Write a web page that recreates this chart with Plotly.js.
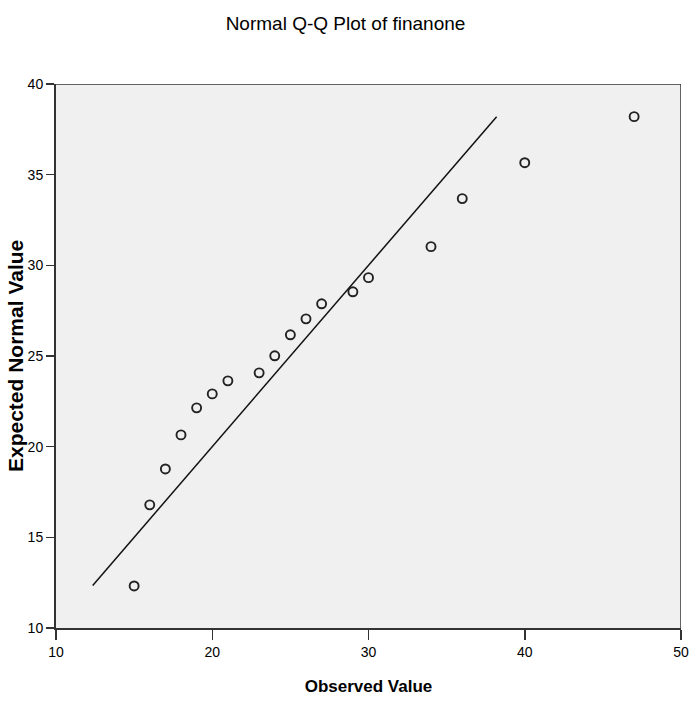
<!DOCTYPE html>
<html>
<head>
<meta charset="utf-8">
<script src="https://cdn.plot.ly/plotly-3.0.1.min.js"></script>
<style>html,body{margin:0;padding:0;background:#fff;}#chart{width:691px;height:704px;}</style>
</head>
<body>
<div id="chart"></div>
<script>
var observed = [15, 16, 17, 18, 19, 20, 21, 23, 24, 25, 26, 27, 29, 30, 34, 36, 40, 47];
var expected = [12.32, 16.79, 18.77, 20.65, 22.14, 22.91, 23.63, 24.07, 25.01, 26.17, 27.05, 27.88, 28.54, 29.32, 31.03, 33.68, 35.66, 38.2];
var lineX = [12.35, 38.2];
var lineY = [12.35, 38.2];
var xTicks = [10, 20, 30, 40, 50];
var yTicks = [10, 15, 20, 25, 30, 35, 40];

var fontFam = 'Arial, "Liberation Sans", sans-serif';

var traces = [
  {x: lineX, y: lineY, type: 'scatter', mode: 'lines', line: {color: '#111', width: 1.5}, hoverinfo: 'skip'},
  {x: observed, y: expected, type: 'scatter', mode: 'markers',
   marker: {symbol: 'circle-open', size: 9, color: '#222', line: {width: 1.9, color: '#222'}}}
];

var layout = {
  width: 691, height: 704,
  margin: {l: 56, r: 10, t: 84, b: 76},
  paper_bgcolor: '#fff',
  plot_bgcolor: '#f0f0f0',
  showlegend: false,
  title: {text: 'Normal Q-Q Plot of finanone', x: 0.5, xref: 'container', y: 1 - 23/704, yref: 'container', yanchor: 'middle',
          font: {family: fontFam, size: 19, color: '#000'}},
  xaxis: {range: [10, 50], tickvals: xTicks, ticktext: xTicks.map(String), showgrid: false, zeroline: false,
          showline: true, linecolor: '#333', linewidth: 2, mirror: false,
          ticks: 'outside', ticklen: 10, tickwidth: 1.5, tickcolor: '#333',
          tickfont: {family: fontFam, size: 14, color: '#000'},
          title: {text: '<b>Observed Value</b>', standoff: 21, font: {family: fontFam, size: 17, color: '#000'}}},
  yaxis: {range: [10, 40], tickvals: yTicks, ticktext: yTicks.map(String), showgrid: false, zeroline: false,
          showline: true, linecolor: '#333', linewidth: 2,
          ticks: 'outside', ticklen: 8, tickwidth: 1.5, tickcolor: '#333',
          tickfont: {family: fontFam, size: 14, color: '#000'}},
  annotations: [
    {text: '<b>Expected Normal Value</b>', xref: 'paper', yref: 'paper', x: 0, y: 0.5,
     xanchor: 'center', yanchor: 'middle', xshift: -41, textangle: -90, showarrow: false,
     font: {family: fontFam, size: 21, color: '#000'}}
  ],
  shapes: [
    {type: 'line', xref: 'x', yref: 'paper', x0: 50, x1: 50, y0: 0, y1: 1, line: {color: '#333', width: 1.5}},
    {type: 'line', xref: 'paper', yref: 'y', x0: 0, x1: 1, y0: 40, y1: 40, line: {color: '#333', width: 1.5}}
  ]
};

Plotly.newPlot('chart', traces, layout, {displayModeBar: false, staticPlot: true});
</script>
</body>
</html>
